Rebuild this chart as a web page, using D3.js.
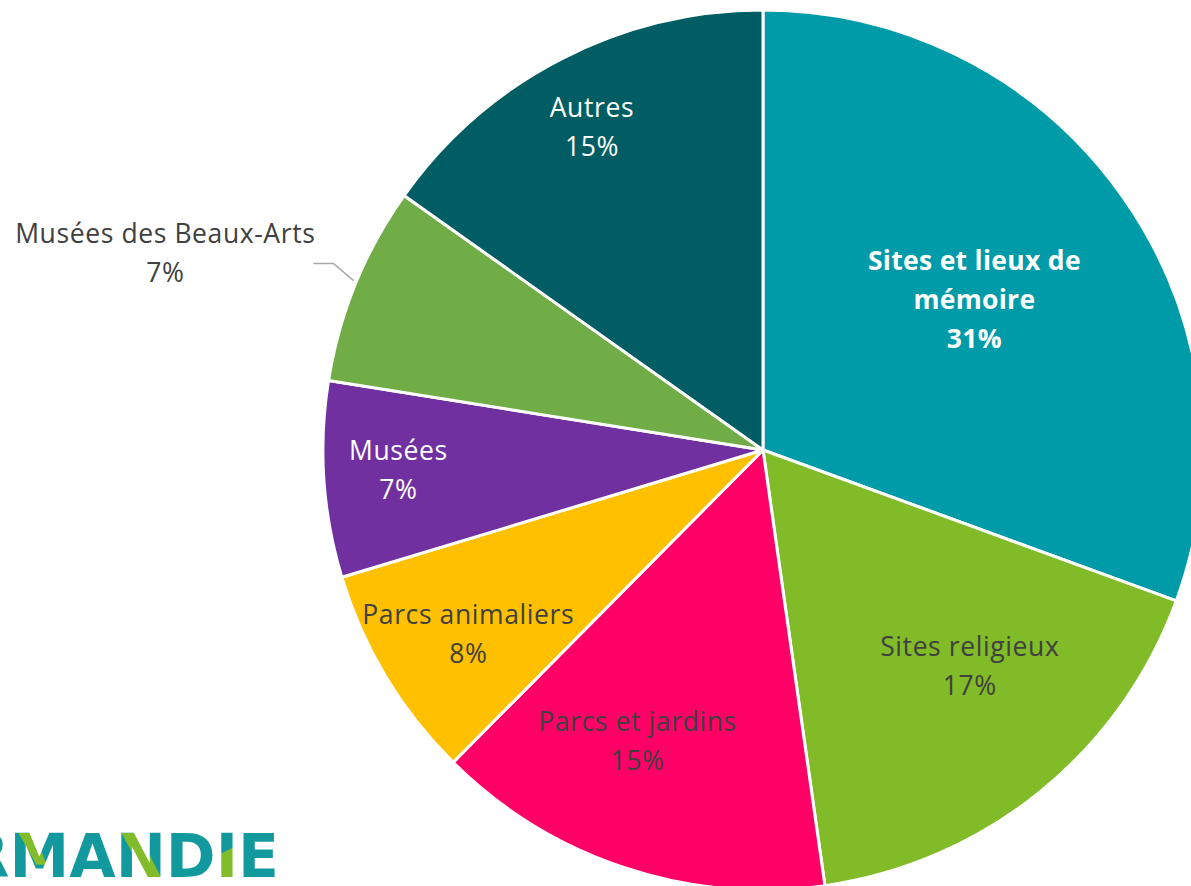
<!DOCTYPE html>
<html>
<head>
<meta charset="utf-8">
<script src="https://cdn.jsdelivr.net/npm/d3@7"></script>
<style>
  body { margin: 0; background: #ffffff; overflow: hidden; }
  svg { display: block; }
</style>
</head>
<body>
<script>
// données (en % du total)
var categories = ["Sites et lieux de mémoire", "Sites religieux", "Parcs et jardins",
                  "Parcs animaliers", "Musées", "Musées des Beaux-Arts", "Autres"];
var valeurs = [30.6, 17.2, 14.7, 7.9, 7.2, 7.3, 15.2];

// styles
var couleurs = ["#009ba8", "#81bb27", "#ff0066", "#ffc000", "#7030a0", "#70ad47", "#005d63"];
var couleursTexte = ["#ffffff", "#404040", "#404040", "#404040", "#ffffff", "#404040", "#ffffff"];
var gras = [true, false, false, false, false, false, false];
// lignes de chaque étiquette
var lignesEtiquette = [["Sites et lieux de", "mémoire"], ["Sites religieux"], ["Parcs et jardins"],
                       ["Parcs animaliers"], ["Musées"], ["Musées des Beaux-Arts"], ["Autres"]];
// position des étiquettes : rapport au rayon, décalage d'angle (degrés)
var posEtiquette = [[0.59, -0.5], [0.68, -4.7], [0.72, 5], [0.79, -1], [0.83, 0.7], [1.43, -4], [0.83, -0.6]];

var totalWidth = 1191;
var totalHeight = 886;
var cx = 763, cy = 450, rayon = 440;
var interligne = 39;
var police = "'Open Sans', Lato, sans-serif";

var svg = d3.select("body")
    .append("svg")
    .attr("width", totalWidth)
    .attr("height", totalHeight);

var defs = svg.append("defs");

var pie = d3.pie().sort(null).value(d => d);
var arcs = pie(valeurs);

var arc = d3.arc().innerRadius(0).outerRadius(rayon);

var g = svg.append("g")
    .attr("transform", "translate(" + cx + "," + cy + ")");

g.selectAll("path")
 .data(arcs)
 .enter()
 .append("path")
 .attr("d", arc)
 .attr("fill", (d, i) => couleurs[i])
 .attr("stroke", "white")
 .attr("stroke-width", 3)
 .attr("stroke-linejoin", "round");

function pointPolaire(angle, r) {
  return [r * Math.sin(angle), -r * Math.cos(angle)];
}

// étiquettes
arcs.forEach(function(d, i) {
  var milieu = (d.startAngle + d.endAngle) / 2;
  var a = milieu + posEtiquette[i][1] * Math.PI / 180;
  var p = pointPolaire(a, rayon * posEtiquette[i][0]);
  var lignes = lignesEtiquette[i].concat([Math.round(d.value) + "%"]);
  var y0 = p[1] - (lignes.length - 1) * interligne / 2;

  var t = g.append("text")
    .attr("text-anchor", "middle")
    .attr("font-family", police)
    .attr("font-size", 26.5)
    .attr("letter-spacing", gras[i] ? 0.3 : 0.6)
    .attr("font-weight", gras[i] ? "bold" : "normal")
    .attr("fill", couleursTexte[i]);

  lignes.forEach(function(l, k) {
    t.append("tspan")
     .attr("x", p[0])
     .attr("y", y0 + k * interligne)
     .attr("dy", "0.36em")
     .text(l);
  });

  // ligne de rappel pour l'étiquette extérieure
  if (posEtiquette[i][0] > 1) {
    var bord = pointPolaire(milieu, rayon);
    var largeur = t.node().getBBox().width;
    var xFin = p[0] + largeur / 2 - 2;
    var yLigne = p[1] + 10;
    g.append("polyline")
     .attr("points", [[xFin, yLigne], [xFin + 20, yLigne], [bord[0] - 2, bord[1] - 3]].map(q => q.join(",")).join(" "))
     .attr("fill", "none")
     .attr("stroke", "#a6a6a6")
     .attr("stroke-width", 1.5);
  }
});

// logo (coupé à gauche, comme sur l'original)
var logoTexte = "NORMANDIE";
var clip = defs.append("clipPath").attr("id", "logo-clip");
var logo = clip.append("text")
   .attr("x", 279)
   .attr("y", 877)
   .attr("text-anchor", "end")
   .attr("font-family", "'DejaVu Sans', sans-serif")
   .attr("font-weight", "bold")
   .attr("font-size", 60)
   .text(logoTexte);

var gLogo = svg.append("g").attr("clip-path", "url(#logo-clip)");
gLogo.append("rect")
     .attr("x", 0).attr("y", 820).attr("width", 300).attr("height", 66)
     .attr("fill", "#12999e");

// touches vertes sur M, N et I (en fraction de la boîte de la lettre)
var accents = [
  [3, [[0.15, 0], [0.42, 0], [0.62, 0.72], [0.45, 0.72]]],
  [5, [[0.12, 0], [0.45, 0], [0.9, 1], [0.58, 1]]],
  [7, [[-0.1, 0.55], [1.1, 0.25], [1.1, 1.1], [-0.1, 1.1]]]
];
var noeudLogo = logo.node();
accents.forEach(function(ac) {
  var b = noeudLogo.getExtentOfChar(ac[0]);
  gLogo.append("polygon")
       .attr("points", ac[1].map(q => [b.x + q[0] * b.width, 833 + q[1] * 44].join(",")).join(" "))
       .attr("fill", "#82bc2a");
});
</script>
</body>
</html>
